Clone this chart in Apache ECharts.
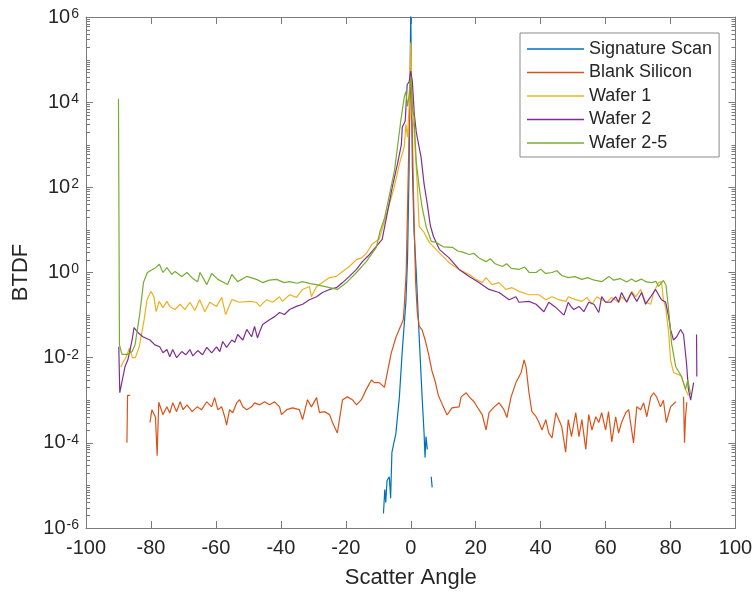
<!DOCTYPE html>
<html><head><meta charset="utf-8">
<script src="https://cdn.jsdelivr.net/npm/echarts@6/dist/echarts.min.js"></script>
<style>html,body{margin:0;padding:0;background:#fff}#c{width:752px;height:592px}</style>
</head><body><div id="c"></div>
<script>
const seriesNames = ['Signature Scan', 'Blank Silicon', 'Wafer 1', 'Wafer 2', 'Wafer 2-5'];
const seriesColors = ['#0072BD', '#D95319', '#EDB120', '#7E2F8E', '#77AC30'];
const xTickValues = [-100, -80, -60, -40, -20, 0, 20, 40, 60, 80, 100];
const yExponentLabels = [-6, -4, -2, 0, 2, 4, 6];

const signatureScan = [[-8.4,2.2e-6],[-8.0,8e-6],[-7.7,4e-6],[-7.3,1.3e-5],[-6.9,1.2e-5],[-6.6,1.6e-5],[-6.2,5e-6],[-5.8,6e-5],[-5.2,1.0e-4],[-4.6,1.6e-4],[-3.5,1.2e-3],[-2.6,0.015],[-1.5,0.2],[-1.0,2],[-0.5,300],[0,1.5e6],[0.5,300],[1.0,10],[1.7,1.0],[2.6,0.03],[3.5,1.2e-3],[4.1,1.7e-4],[4.4,4.5e-5],[4.7,1.4e-4],[5.1,7e-5],[5.6,null],[6.3,1.6e-5],[6.6,9e-6]];

const blankSilicon = [[-87.4,1.0e-4],[-87.2,1.3e-3],[-86.4,1.3e-3],[-84,null],
[-80.3,3e-4],[-79.7,6e-4],[-79.1,6.6e-4],[-78.6,4e-4],[-78.1,5e-5],[-77.6,9e-4],[-76.3,4.6e-4],[-75.1,7e-4],[-74.2,5e-4],[-73.3,8.7e-4],[-72.1,5.4e-4],[-71.0,9.2e-4],[-70.1,6e-4],[-68.9,7.8e-4],[-67.3,5.4e-4],[-65.8,7e-4],[-64.4,6e-4],[-62.8,9.2e-4],[-61.3,7e-4],[-60.4,1.15e-3],[-59.4,6e-4],[-58.2,7e-4],[-57.3,4.1e-4],[-56.7,2.6e-4],[-55.8,6e-4],[-54.8,5.1e-4],[-53.6,8.7e-4],[-52.7,1.03e-3],[-51.7,7e-4],[-50.5,6e-4],[-49.0,7e-4],[-48.1,8.7e-4],[-46.5,7.8e-4],[-45.0,9.2e-4],[-43.5,7.8e-4],[-41.9,9.2e-4],[-40.4,7e-4],[-39.8,4.6e-4],[-38.2,6e-4],[-36.4,6.6e-4],[-34.3,6e-4],[-33.3,3.5e-4],[-31.8,1.03e-3],[-30.6,7e-4],[-29.0,1.15e-3],[-28.1,5.1e-4],[-26.6,5.4e-4],[-25.0,4.6e-4],[-24.1,3e-4],[-22.6,1.7e-4],[-21.0,1.03e-3],[-19.5,1.2e-3],[-18.0,1.03e-3],[-16.7,7.8e-4],[-15.2,1.03e-3],[-13.7,1.8e-3],[-12.1,3e-3],[-11.2,2.6e-3],[-9.7,2.6e-3],[-8.1,2.0e-3],[-7.2,4.5e-3],[-6.0,0.013],[-4.5,0.031],[-2.9,0.06],[-2.3,0.078],[-2.0,0.16],[-1.4,1.0],[-1.0,30],[-0.5,2000],[0,6e4],[0.5,1500],[1.0,20],[1.5,0.6],[2.0,0.12],[2.6,0.055],[3.5,0.045],[4.5,0.025],[5.5,0.012],[6.5,5e-3],[7.5,2.8e-3],[8.5,1.3e-3],[9.7,8e-4],[11.2,4.5e-4],[12.7,6.6e-4],[14.9,7e-4],[15.5,1.2e-3],[17.1,1.5e-3],[18.0,1.2e-3],[19.5,9.2e-4],[21.0,6e-4],[22.0,4.6e-4],[23.2,2e-4],[24.1,5.1e-4],[25.7,7e-4],[27.2,8.7e-4],[28.7,6e-4],[29.6,3.9e-4],[30.9,1.2e-3],[32.4,2.6e-3],[34.0,4.5e-3],[34.9,8.9e-3],[35.5,6.1e-3],[36.4,1.5e-3],[37.3,5.4e-4],[38.6,4.1e-4],[39.5,3e-4],[40.4,2e-4],[41.6,3.5e-4],[42.5,1.7e-4],[43.5,1.3e-4],[44.7,5.1e-4],[45.6,3.5e-4],[46.5,2.4e-4],[47.7,6e-5],[48.5,3.5e-4],[49.5,1.4e-4],[50.8,5.1e-4],[51.8,1.4e-4],[52.7,3.5e-4],[53.9,7e-5],[54.8,4.6e-4],[55.8,2e-4],[57.0,4.1e-4],[57.9,3e-4],[58.8,5.1e-4],[60.0,2e-4],[60.9,5.4e-4],[61.9,1.05e-4],[63.1,4.1e-4],[64.0,1.7e-4],[64.9,3e-4],[66.2,5.1e-4],[67.1,6e-4],[68.6,1.0e-4],[69.6,7e-4],[70.8,6e-4],[71.7,8.7e-4],[72.7,4.1e-4],[73.9,1.2e-3],[74.8,1.5e-3],[75.7,1.2e-3],[76.9,7e-4],[77.8,1.0e-3],[78.7,3e-4],[80.0,7e-4],[81.6,9.2e-4],[82.8,null],[84.0,1.2e-3],[84.3,1.0e-4],[84.6,4e-4],[85.0,9e-4]];

const wafer1 = [[-89.3,6e-3],[-88.5,8e-3],[-87.6,0.0105],[-86.6,0.017],[-85.7,0.01],[-84.8,0.01],[-83.6,0.018],[-82.1,0.078],[-81.2,0.23],[-80.0,0.36],[-79.1,0.27],[-78.4,0.12],[-77.5,0.21],[-76.3,0.15],[-75.1,0.21],[-74.2,0.16],[-72.6,0.135],[-71.0,0.18],[-69.6,0.135],[-68.0,0.2],[-66.5,0.128],[-65.0,0.23],[-63.4,0.12],[-61.9,0.2],[-59.8,0.16],[-58.2,0.26],[-57.0,0.103],[-55.1,0.23],[-52.7,0.2],[-49.6,0.21],[-47.5,0.2],[-46.5,0.16],[-44.4,0.23],[-42.5,0.2],[-40.4,0.27],[-39.5,0.21],[-37.3,0.3],[-35.2,0.26],[-33.3,0.4],[-31.2,0.47],[-30.6,0.27],[-29.0,0.47],[-27.2,0.58],[-25.0,0.76],[-22.9,0.81],[-21.0,1.06],[-18.9,1.38],[-16.7,2.0],[-15.2,2.2],[-13.7,2.8],[-11.9,4.6],[-9.7,6.1],[-7.5,23],[-5.1,100],[-3.5,350],[-2.0,900],[-1.5,3000],[-1.0,1500],[-0.5,8000],[0,2.5e5],[0.5,5000],[1.0,2500],[1.5,500],[2.0,120],[2.6,12],[4.1,8.7],[5.7,5.1],[8.8,2.9],[11.8,1.7],[14.9,1.18],[18.0,0.9],[20.1,0.69],[22.0,0.58],[23.2,0.76],[25.0,0.52],[27.2,0.58],[29.3,0.4],[31.2,0.44],[33.3,0.36],[36.4,0.3],[39.5,0.3],[41.6,0.23],[43.5,0.27],[45.6,0.23],[47.8,0.21],[48.5,0.27],[50.8,0.23],[52.7,0.21],[54.2,0.26],[55.8,0.18],[57.3,0.27],[58.8,0.23],[60.4,0.2],[61.9,0.26],[64.0,0.2],[64.9,0.27],[66.5,0.21],[68.0,0.36],[69.3,0.27],[70.8,0.4],[72.3,0.2],[73.9,0.18],[74.8,0.34],[76.3,0.58],[77.2,0.61],[77.8,0.23],[78.5,0.15],[79.4,0.039],[80.0,8.9e-3],[80.9,4.5e-3],[82.5,4e-3],[83.4,3.6e-3],[84.6,1.8e-3],[85.5,1.3e-3]];

const wafer2 = [[-89.9,0.018],[-89.6,1.5e-3],[-88.0,6.1e-3],[-87.1,8.9e-3],[-85.8,0.026],[-85.2,0.051],[-84.0,0.039],[-82.5,0.031],[-80.3,0.026],[-78.8,0.02],[-77.3,0.018],[-76.3,0.013],[-75.1,0.0155],[-74.2,0.0105],[-73.3,0.0155],[-72.1,0.01],[-70.5,0.0139],[-69.3,0.0117],[-68.0,0.0155],[-67.1,0.011],[-65.6,0.0147],[-64.1,0.0117],[-62.8,0.0174],[-61.3,0.013],[-59.8,0.018],[-58.8,0.0139],[-57.9,0.024],[-56.7,0.0174],[-55.1,0.026],[-54.2,0.023],[-53.3,0.035],[-51.7,0.026],[-50.5,0.046],[-49.0,0.031],[-48.1,0.054],[-47.2,0.029],[-46.5,0.041],[-45.6,0.06],[-43.5,0.078],[-41.9,0.092],[-40.4,0.115],[-38.9,0.103],[-37.3,0.135],[-35.2,0.16],[-33.3,0.18],[-31.2,0.23],[-29.0,0.27],[-27.2,0.34],[-25.0,0.4],[-22.9,0.44],[-21.0,0.58],[-18.9,0.81],[-16.7,1.18],[-14.9,1.8],[-12.7,2.65],[-10.6,4.1],[-8.8,6.0],[-7.2,25],[-5.7,100],[-4.1,350],[-2.9,1000],[-2.6,2600],[-1.7,3600],[-1.1,2.6e4],[-0.5,3e4],[0,5.4e4],[0.5,3e4],[1.1,5200],[1.7,2000],[2.0,1500],[3.2,500],[4.1,120],[5.1,40],[6.0,13],[7.0,7],[8.8,3.5],[11.8,2.2],[14.9,1.18],[18.0,0.81],[21.0,0.58],[24.1,0.4],[27.2,0.34],[30.3,0.23],[32.4,0.27],[33.3,0.2],[36.4,0.21],[38.6,0.18],[41.0,0.12],[42.5,0.2],[44.7,0.15],[47.2,0.1],[48.5,0.2],[49.3,0.16],[50.2,0.135],[51.8,0.16],[53.3,0.12],[54.8,0.2],[56.4,0.18],[57.9,0.115],[58.8,0.27],[60.0,0.2],[61.6,0.2],[63.1,0.27],[64.0,0.2],[64.9,0.34],[66.5,0.2],[68.0,0.34],[69.6,0.21],[71.1,0.34],[72.3,0.18],[73.9,0.27],[75.4,0.4],[76.3,0.3],[77.2,0.23],[78.5,0.2],[79.4,0.092],[80.0,0.046],[80.9,0.026],[81.9,0.031],[83.1,0.046],[84.0,0.035],[84.9,7.6e-3],[85.5,1.8e-3],[86.2,1.0e-3],[87.1,2.6e-3],[87.6,null],[88.0,0.035],[88.1,3.6e-3]];

const wafer25 = [[-90,1.2e4],[-89.7,0.02],[-88.9,0.012],[-87.1,0.012],[-85.8,0.014],[-84.9,0.02],[-83.5,0.1],[-82.3,0.58],[-81.1,1.0],[-80.2,1.1],[-78.6,1.3],[-77.4,1.56],[-76.3,1.0],[-75.1,1.31],[-73.6,0.9],[-72.6,1.06],[-70.5,0.81],[-68.9,1.0],[-67.1,0.72],[-65.6,0.61],[-64.9,1.0],[-62.8,0.52],[-61.3,0.95],[-59.4,0.69],[-56.4,0.52],[-55.1,0.9],[-53.3,0.61],[-50.5,0.81],[-47.5,0.69],[-45.6,0.58],[-43.5,0.66],[-41.3,0.69],[-39.0,0.58],[-37.3,0.61],[-35.0,0.56],[-33.3,0.61],[-31.0,0.55],[-29.0,0.52],[-27.0,0.48],[-25.0,0.44],[-22.6,0.4],[-19.8,0.58],[-16.7,1.0],[-13.7,1.8],[-10.6,3.9],[-9.5,9],[-8.0,20],[-6.5,70],[-5.0,250],[-4.0,1000],[-3.0,4000],[-2.0,1.3e4],[-1.5,1.8e4],[-1.0,8000],[-0.5,1.5e4],[0,4e4],[0.5,8000],[1.0,4500],[1.7,400],[2.6,100],[3.5,34],[4.8,11.5],[6.3,5.4],[7.8,5.1],[10.0,4.0],[12.8,3.9],[14.5,3.2],[16.0,3.0],[18.0,2.65],[19.5,2.8],[21.0,2.2],[23.2,1.8],[24.5,2.1],[26.0,1.6],[28.2,1.38],[29.5,1.6],[31.0,1.25],[33.3,1.18],[35.0,1.35],[36.5,1.0],[38.6,1.0],[40.0,1.2],[41.5,0.95],[43.5,1.0],[45.0,1.1],[46.5,0.85],[48.5,0.76],[50.5,0.8],[52.7,0.69],[54.5,0.76],[56.5,0.66],[58.8,0.61],[61.0,0.81],[62.5,0.66],[64.5,0.72],[66.5,0.6],[68.0,0.7],[69.3,0.61],[71.0,0.7],[72.5,0.6],[74.2,0.58],[75.5,0.62],[76.3,0.47],[77.8,0.65],[78.6,0.5],[79.4,0.135],[80.3,0.022],[81.6,6.1e-3],[83.4,3.6e-3],[84.6,1.8e-3],[85.3,3e-3],[86.2,1.35e-3]];

const seriesData = [signatureScan, blankSilicon, wafer1, wafer2, wafer25];

const FONT = '"Liberation Sans", Arial, Helvetica, sans-serif';
const AXIS_COLOR = '#7a7a7a';
const TEXT_COLOR = '#262626';

// minor log tick positions (k * 10^n), majors are every 2 decades
const minorTicks = [];
for (let n = -6; n < 6; n++) {
  for (let k = 1; k <= 9; k++) {
    if (k === 1 && n % 2 === 0) continue;
    minorTicks.push([-100, k * Math.pow(10, n)]);
  }
}

const chart = echarts.init(document.getElementById('c'), null, {renderer: 'canvas'});

const axisLineCommon = {show: true, onZero: false, lineStyle: {color: AXIS_COLOR, width: 1}};
const axisTickCommon = {show: true, inside: true, length: 7, lineStyle: {color: AXIS_COLOR, width: 1}};

const lineSeries = seriesNames.map((name, i) => ({
  name: name,
  type: 'line',
  data: seriesData[i],
  xAxisIndex: 0,
  yAxisIndex: 0,
  symbol: 'none',
  showSymbol: false,
  connectNulls: false,
  clip: true,
  lineStyle: {color: seriesColors[i], width: 1.2},
  itemStyle: {color: seriesColors[i]},
  emphasis: {disabled: true},
  z: 2 + i
}));

const option = {
  animation: false,
  backgroundColor: '#ffffff',
  grid: {left: 86, right: 16.5, top: 17, bottom: 64, containLabel: false, outerBoundsMode: 'none'},
  legend: {
    data: seriesNames,
    orient: 'vertical',
    left: 520,
    top: 33,
    padding: [6, 7, 4, 7],
    itemGap: 3.5,
    itemWidth: 57,
    itemHeight: 1.5,
    icon: 'rect',
    borderColor: '#8a8a8a',
    borderWidth: 1,
    borderRadius: 0,
    backgroundColor: '#ffffff',
    selectedMode: false,
    textStyle: {fontSize: 18, fontFamily: FONT, color: TEXT_COLOR, lineHeight: 20}
  },
  xAxis: [
    {
      type: 'value', min: xTickValues[0], max: xTickValues[xTickValues.length - 1], interval: 20,
      position: 'bottom',
      axisLine: axisLineCommon, axisTick: axisTickCommon,
      axisLabel: {color: TEXT_COLOR, fontSize: 20, fontFamily: FONT, margin: 10, showMinLabel: true, showMaxLabel: true},
      splitLine: {show: false},
      name: 'Scatter Angle', nameLocation: 'middle', nameGap: 39,
      nameTextStyle: {fontSize: 22, color: TEXT_COLOR, fontFamily: FONT}
    },
    {
      type: 'value', min: xTickValues[0], max: xTickValues[xTickValues.length - 1], interval: 20,
      position: 'top',
      axisLine: axisLineCommon, axisTick: axisTickCommon,
      axisLabel: {show: false}, splitLine: {show: false}
    }
  ],
  yAxis: [
    {
      type: 'log', logBase: 10, min: 1e-6, max: 1e6, interval: 2,
      position: 'left',
      axisLine: axisLineCommon, axisTick: axisTickCommon,
      axisLabel: {
        margin: 7,
        showMinLabel: true, showMaxLabel: true,
        formatter: function (v) {
          const e = Math.round(Math.log10(v));
          return '{b|10}{s|' + e + '}';
        },
        rich: {
          b: {fontSize: 20, fontFamily: FONT, color: TEXT_COLOR, lineHeight: 20, verticalAlign: 'bottom'},
          s: {fontSize: 14, fontFamily: FONT, color: TEXT_COLOR, lineHeight: 14, verticalAlign: 'top', padding: [0, 0, 15, 1]}
        }
      },
      splitLine: {show: false},
      name: 'BTDF', nameLocation: 'middle', nameGap: 53, nameRotate: 90,
      nameTextStyle: {fontSize: 22, color: TEXT_COLOR, fontFamily: FONT}
    },
    {
      type: 'log', logBase: 10, min: 1e-6, max: 1e6, interval: 2,
      position: 'right',
      axisLine: axisLineCommon, axisTick: axisTickCommon,
      axisLabel: {show: false}, splitLine: {show: false}
    }
  ],
  series: lineSeries.concat([{
    type: 'custom',
    name: 'minorTicks',
    coordinateSystem: 'cartesian2d',
    xAxisIndex: 0, yAxisIndex: 0,
    data: minorTicks,
    clip: false,
    silent: true,
    z: 10,
    renderItem: function (params, api) {
      const v = api.value(1);
      const pl = api.coord([-100, v]);
      const pr = api.coord([100, v]);
      const y = Math.round(pl[1]) + 0.5;
      const len = 4;
      return {
        type: 'group',
        children: [
          {type: 'line', shape: {x1: pl[0], y1: y, x2: pl[0] + len, y2: y}, style: {stroke: AXIS_COLOR, lineWidth: 1}},
          {type: 'line', shape: {x1: pr[0], y1: y, x2: pr[0] - len, y2: y}, style: {stroke: AXIS_COLOR, lineWidth: 1}}
        ]
      };
    }
  }])
};

chart.setOption(option);
</script>
</body></html>
